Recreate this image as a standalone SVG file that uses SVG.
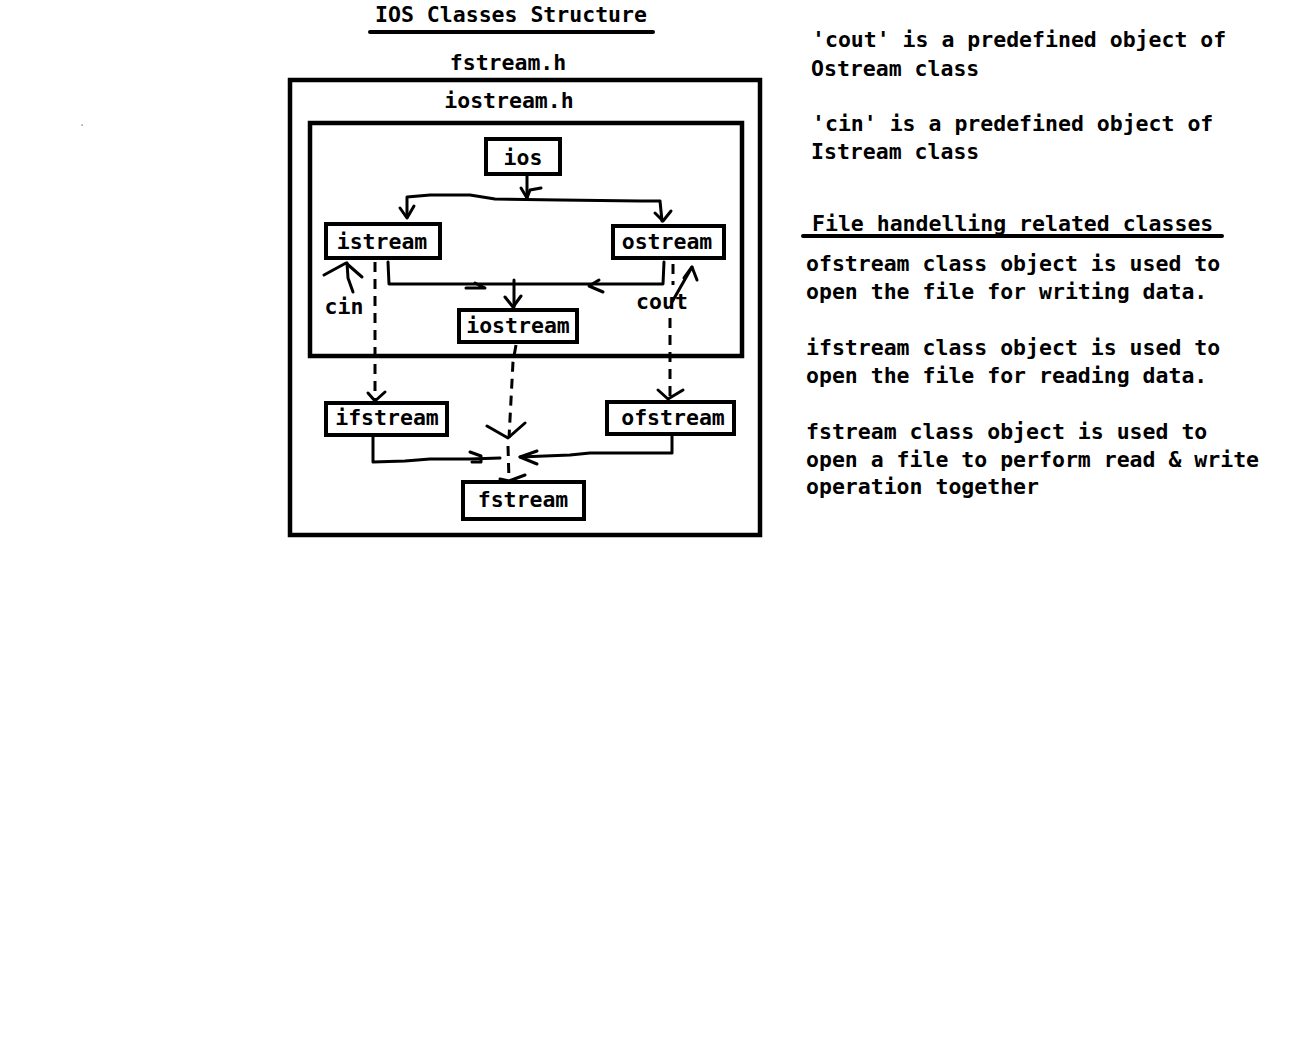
<svg xmlns="http://www.w3.org/2000/svg" width="1307" height="1049" viewBox="0 0 1307 1049">
<style>
text{font-family:"DejaVu Sans Mono","Liberation Mono",monospace;font-weight:bold;font-size:21.5px;fill:#000}
.c{text-anchor:middle}
.box{fill:#fff;stroke:#000;stroke-width:4}
.frame{fill:none;stroke:#000;stroke-width:4.5}
.ln{fill:none;stroke:#000;stroke-width:3;stroke-linecap:round;stroke-linejoin:round}
.dash{fill:none;stroke:#000;stroke-width:3;stroke-dasharray:10 7}
</style>
<rect width="1307" height="1049" fill="#fff"/>
<rect x="81.5" y="124.5" width="1.2" height="1.2" fill="#555"/>

<g id="title">
<text x="511" y="22" class="c">IOS Classes Structure</text>
<line x1="370" y1="32" x2="653" y2="32" stroke="#000" stroke-width="4" stroke-linecap="round"/>
</g>

<g id="fstream-h">
<text x="508" y="70" class="c">fstream.h</text>
<rect x="290" y="80" width="470" height="455" class="frame"/>
</g>
<g id="iostream-h">
<text x="509" y="108" class="c">iostream.h</text>
<rect x="310" y="123" width="432" height="233" class="frame"/>
</g>

<g id="connectors">
<!-- ios to istream / ostream -->
<polyline class="ln" points="527,176 527,199"/>
<polyline class="ln" points="521,188 527,198 530,190 541,188"/>
<polyline class="ln" points="407,217 407,197 430,195 470,195 495,199 560,200 640,201 660,201 662,221"/>
<polyline class="ln" points="400,208 407,218 414,206"/>
<polyline class="ln" points="655,213 663,221 671,211"/>
<!-- istream/ostream to iostream -->
<polyline class="ln" points="388,262 389,284 663,284 664,262"/>
<polyline class="ln" points="466,288 485,288 475,283"/>
<polyline class="ln" points="599,280 589,286 603,292"/>
<polyline class="ln" points="514,280 514,307"/>
<polyline class="ln" points="505,297 513,307 521,296"/>
<!-- cin / cout -->
<polyline class="ln" points="353,292 348,278 347,263"/>
<polyline class="ln" points="324,275 346,263 362,277"/>
<polyline class="ln" points="672,302 692,267"/>
<polyline class="ln" points="684,278 692,267 697,280"/>
<!-- dashed inheritance -->
<line class="dash" x1="375" y1="262" x2="375" y2="400"/>
<polyline class="ln" points="368,393 375,401 385,392"/>
<polyline class="dash" points="673,264 673,285"/>
<polyline class="dash" points="670,318 670,400"/>
<polyline class="ln" points="658,390 668,399 683,390"/>
<polyline class="dash" points="516,345 513,362 509,438"/>
<polyline class="ln" points="487,426 508,438 525,423"/>
<polyline class="dash" points="508,446 509,480"/>
<polyline class="ln" points="500,479 509,481 525,475"/>
<!-- ifstream / ofstream to fstream -->
<polyline class="ln" points="373,437 373,462 405,461 430,459 470,459 500,458"/>
<polyline class="ln" points="470,452 481,456 481,462 472,462"/>
<polyline class="ln" points="672,436 672,453 590,453 570,455 520,457"/>
<polyline class="ln" points="537,451 520,457 537,464"/>
</g>

<g id="ios"><rect x="486" y="139" width="74" height="35" class="box"/><text x="523" y="165" class="c">ios</text></g>
<g id="istream"><rect x="326" y="224" width="114" height="34" class="box"/><text x="382" y="249" class="c">istream</text></g>
<g id="ostream"><rect x="613" y="226" width="111" height="32" class="box"/><text x="667" y="249" class="c">ostream</text></g>
<g id="iostream"><rect x="459" y="310" width="118" height="32" class="box"/><text x="518" y="333" class="c">iostream</text></g>
<g id="ifstream"><rect x="326" y="403" width="121" height="32" class="box"/><text x="387" y="425" class="c">ifstream</text></g>
<g id="ofstream"><rect x="607" y="402" width="127" height="32" class="box"/><text x="673" y="425" class="c">ofstream</text></g>
<g id="fstream"><rect x="463" y="482" width="121" height="37" class="box"/><text x="523" y="507" class="c">fstream</text></g>

<g id="labels">
<text x="344" y="314" class="c">cin</text>
<text x="662" y="309" class="c">cout</text>
</g>

<g id="notes">
<text x="812" y="47">'cout' is a predefined object of</text>
<text x="811" y="76">Ostream class</text>
<text x="812" y="131">'cin' is a predefined object of</text>
<text x="811" y="159">Istream class</text>
<text x="812" y="231">File handelling related classes</text>
<line x1="803" y1="236" x2="1222" y2="236" stroke="#000" stroke-width="4" stroke-linecap="round"/>
<text x="806" y="271">ofstream class object is used to</text>
<text x="806" y="299">open the file for writing data.</text>
<text x="806" y="355">ifstream class object is used to</text>
<text x="806" y="383">open the file for reading data.</text>
<text x="806" y="439">fstream class object is used to</text>
<text x="806" y="467">open a file to perform read &amp; write</text>
<text x="806" y="494">operation together</text>
</g>
</svg>
